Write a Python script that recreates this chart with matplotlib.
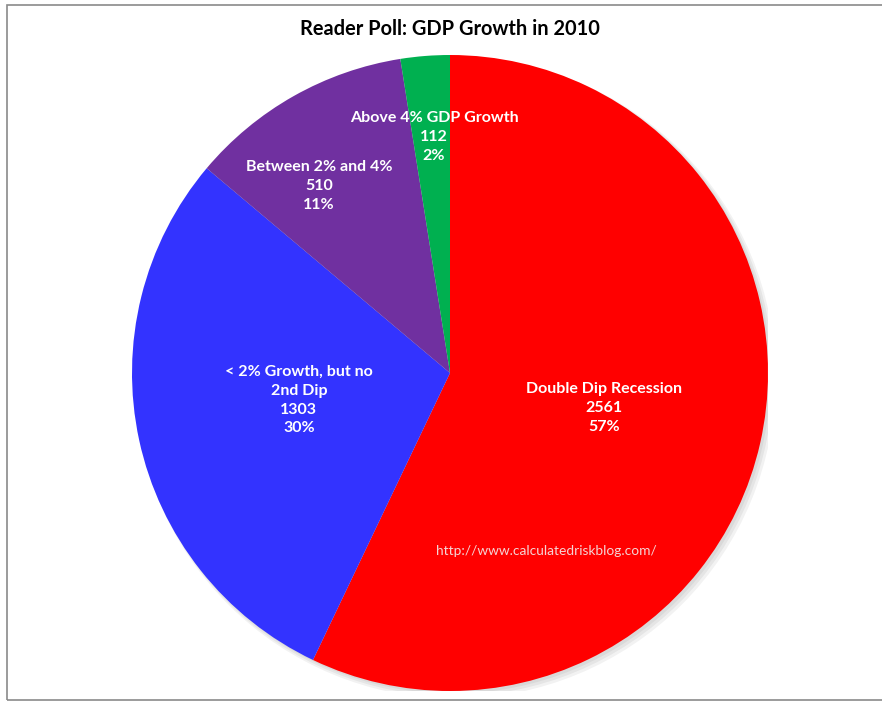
import matplotlib
matplotlib.use("Agg")
import matplotlib.pyplot as plt
from matplotlib.patches import Rectangle, Circle

categories = ["Double Dip Recession", "< 2% Growth, but no\n2nd Dip", "Between 2% and 4%", "Above 4% GDP Growth"]
votes = [2561, 1303, 510, 112]
pct_labels = ["57%", "30%", "11%", "2%"]
colors = ["#FF0000", "#3333FF", "#7030A0", "#00B050"]
title = "Reader Poll: GDP Growth in 2010"
source = "http://www.calculatedriskblog.com/"

W, H = 882, 702
fig = plt.figure(figsize=(W / 100, H / 100), dpi=100)
fig.patch.set_facecolor("white")

# frame
fig.add_artist(Rectangle((7 / W, 1 - 700 / H), 1.2, (700 - 5) / H, transform=fig.transFigure,
                         fill=False, edgecolor="#8a8a8a", linewidth=1.2))

cx, cy, r = 450, 373, 318
ax = fig.add_axes([(cx - r) / W, (H - cy - r) / H, 2 * r / W, 2 * r / H])

# soft shadow
for i in range(3):
    ax.add_patch(Circle((0.008 + 0.004 * i, -0.008 - 0.004 * i), 1.0 + 0.004 * i,
                        facecolor="black", alpha=0.05, edgecolor="none", zorder=0))

wedges, _ = ax.pie(votes, colors=colors, startangle=90, counterclock=False, radius=1.0,
                   wedgeprops=dict(linewidth=0, edgecolor="none"))
for w in wedges:
    w.set_zorder(2)
ax.set_xlim(-1, 1)
ax.set_ylim(-1, 1)
ax.set_aspect("equal")
ax.axis("off")

fam = ["Lato", "DejaVu Sans"]
label_pos = [(0.484, -0.110), (-0.475, -0.085), (-0.412, 0.588), (-0.050, 0.742)]
for cat, v, p, (x, y) in zip(categories, votes, pct_labels, label_pos):
    ax.text(x, y, f"{cat}\n{v}\n{p}", ha="center", va="center", color="white",
            fontsize=11.5, fontweight="bold", family=fam, linespacing=1.45, zorder=5)

ax.text(0.302, -0.560, source, ha="center", va="center", color="#f4d4d4",
        fontsize=9.9, family=fam, zorder=5)

fig.text(450 / W, 1 - 29 / H, title, ha="center", va="center", fontsize=14.4,
         fontweight="bold", family=fam, color="black")

fig.savefig("out.png", dpi=100, facecolor="white")
